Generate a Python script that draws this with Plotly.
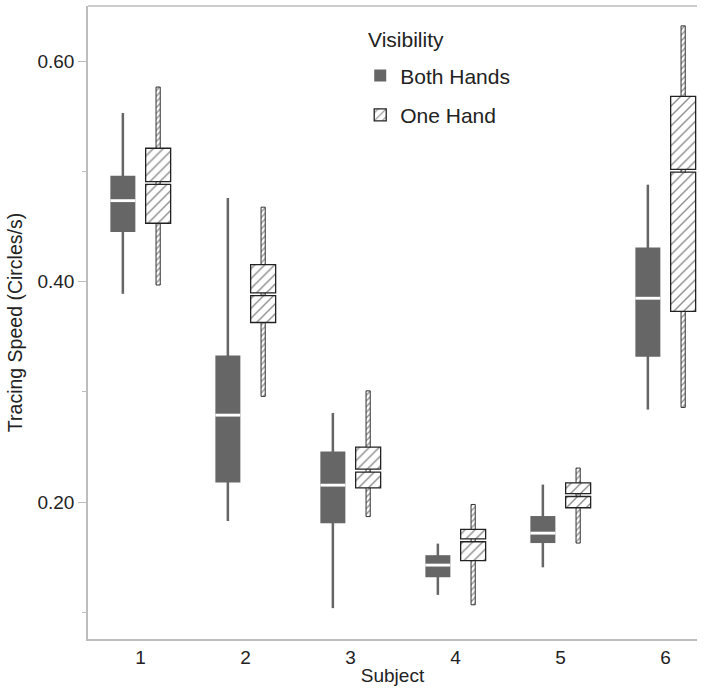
import plotly.graph_objects as go

subjects = [1, 2, 3, 4, 5, 6]

# Both Hands: whisker low, Q1, median, Q3, whisker high
both_low = [0.389, 0.183, 0.104, 0.116, 0.141, 0.284]
both_q1 = [0.445, 0.218, 0.181, 0.132, 0.163, 0.332]
both_med = [0.4735, 0.279, 0.2155, 0.143, 0.172, 0.385]
both_q3 = [0.496, 0.333, 0.246, 0.152, 0.1875, 0.431]
both_high = [0.553, 0.476, 0.281, 0.1625, 0.216, 0.488]

# One Hand
one_low = [0.397, 0.296, 0.187, 0.107, 0.163, 0.286]
one_q1 = [0.453, 0.363, 0.213, 0.147, 0.195, 0.373]
one_med = [0.4895, 0.3886, 0.2287, 0.1655, 0.2065, 0.5006]
one_q3 = [0.521, 0.4155, 0.250, 0.1754, 0.2176, 0.568]
one_high = [0.5765, 0.4676, 0.301, 0.198, 0.231, 0.632]

DARK = "#666666"
EDGE = "#222222"
SHIFT = 0.168
BOXW = 0.238
GAP = 0.0026

def diff(a, b):
    return [x - y for x, y in zip(a, b)]

fig = go.Figure()

# Both Hands whiskers
wk = 0.024
fig.add_trace(go.Bar(x=subjects, base=both_low, y=diff(both_high, both_low),
                     width=wk, offset=-SHIFT - wk / 2,
                     marker=dict(color=DARK, line=dict(width=0)),
                     showlegend=False, hoverinfo="skip"))
# Both Hands boxes
fig.add_trace(go.Bar(x=subjects, base=both_q1, y=diff(both_q3, both_q1),
                     width=BOXW, offset=-SHIFT - BOXW / 2,
                     marker=dict(color=DARK, line=dict(width=0)),
                     name="Both Hands", legendgroup="a", showlegend=True,
                     hoverinfo="skip"))
# Both Hands medians (white gap)
fig.add_trace(go.Bar(x=subjects, base=[m - GAP / 2 for m in both_med],
                     y=[GAP] * len(subjects),
                     width=BOXW, offset=-SHIFT - BOXW / 2,
                     marker=dict(color="white", line=dict(width=0)),
                     showlegend=False, hoverinfo="skip"))

pat = dict(shape="/", fgcolor="#1a1a1a", bgcolor="white", size=7, solidity=0.2)

# One Hand whiskers
wk2 = 0.04
fig.add_trace(go.Bar(x=subjects, base=one_low, y=diff(one_high, one_low),
                     width=wk2, offset=SHIFT - wk2 / 2,
                     marker=dict(color="white",
                                 pattern=dict(shape="/", fgcolor="#222222", bgcolor="white", size=4, solidity=0.35),
                                 line=dict(color="#333333", width=1)),
                     showlegend=False, hoverinfo="skip"))
# One Hand lower halves
fig.add_trace(go.Bar(x=subjects, base=one_q1,
                     y=[m - q - GAP / 2 for m, q in zip(one_med, one_q1)],
                     width=BOXW, offset=SHIFT - BOXW / 2,
                     marker=dict(color="white", pattern=pat, line=dict(color=EDGE, width=1.3)),
                     name="One Hand", legendgroup="b", showlegend=True,
                     hoverinfo="skip"))
# One Hand upper halves
fig.add_trace(go.Bar(x=subjects, base=[m + GAP / 2 for m in one_med],
                     y=[q - m - GAP / 2 for q, m in zip(one_q3, one_med)],
                     width=BOXW, offset=SHIFT - BOXW / 2,
                     marker=dict(color="white", pattern=pat, line=dict(color=EDGE, width=1.3)),
                     showlegend=False, hoverinfo="skip"))

AXC = "#bdbdbd"
FONT = "Liberation Sans"

fig.update_layout(
    width=706, height=689,
    margin=dict(l=88, r=9, t=6, b=47),
    barmode="overlay",
    plot_bgcolor="white", paper_bgcolor="white",
    font=dict(family=FONT, color="#222222", size=18),
    xaxis=dict(range=[0.5, 6.3], tickmode="array", tickvals=subjects,
               ticktext=[str(s) for s in subjects],
               showgrid=False, zeroline=False, showline=True, linecolor=AXC,
               linewidth=1.5, ticks="", tickfont=dict(size=19),
               title=dict(text="Subject", font=dict(size=19), standoff=2)),
    yaxis=dict(range=[0.076, 0.650], tickmode="array", tickvals=[0.2, 0.4, 0.6],
               tickformat=".2f", showgrid=False, zeroline=False, showline=True,
               linecolor=AXC, linewidth=1.5, ticks="outside", ticklen=8,
               tickcolor=AXC, tickwidth=1.2, tickfont=dict(size=19),
               minor=dict(tickmode="array", tickvals=[0.1, 0.3, 0.5], ticks="outside",
                          ticklen=4, tickcolor=AXC, tickwidth=1.2),
               title=dict(text="Tracing Speed (Circles/s)", font=dict(size=19.5), standoff=10)),
    legend=dict(x=0.447, y=0.922, xanchor="left", yanchor="top",
                font=dict(size=21), bgcolor="rgba(0,0,0,0)",
                tracegroupgap=9, itemwidth=30),
    annotations=[dict(text="Visibility", xref="paper", yref="paper",
                      x=0.4565, y=0.9465, xanchor="left", yanchor="middle",
                      showarrow=False, font=dict(size=21))],
    shapes=[dict(type="line", xref="paper", yref="paper", x0=0, x1=1, y0=1, y1=1,
                 line=dict(color=AXC, width=1.5))],
)

fig.write_html("out.html")
